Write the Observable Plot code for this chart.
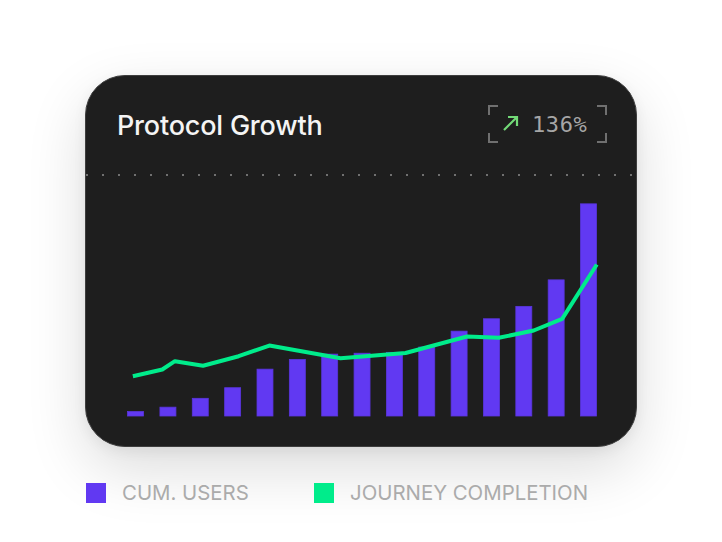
<!DOCTYPE html>
<html>
<head>
<meta charset="utf-8">
<script src="https://cdn.jsdelivr.net/npm/d3@7"></script>
<script src="https://cdn.jsdelivr.net/npm/@observablehq/plot@0.6"></script>
<style>
  html, body { margin: 0; padding: 0; background: #ffffff; width: 722px; height: 542px; overflow: hidden; }
  body { position: relative; font-family: Inter, "Noto Sans", sans-serif; }
  .card { position: absolute; left: 85px; top: 75px; width: 550px; height: 370px; border-radius: 40px;
          background: #1e1e1e; border: 1.5px solid #3e3e3e;
          box-shadow: 0 22px 60px rgba(0,0,0,0.14), 0 4px 14px rgba(0,0,0,0.06); }
  .title { position: absolute; left: 117px; top: 111px; font-size: 27px; font-weight: 500; color: #f4f4f4; letter-spacing: -0.2px; line-height: 30px; }
  .dots { position: absolute; left: 86px; top: 173px; width: 550px; height: 4px;
          background-image: radial-gradient(circle, #707070 0.9px, transparent 1.3px);
          background-size: 16px 4px; background-position: -7px 0; }
  .badge { position: absolute; left: 488px; top: 105px; width: 119px; height: 38px; }
  .corner { position: absolute; width: 8px; height: 8px; border-color: #707070; border-style: solid; border-width: 0; }
  .tl { left: 0; top: 0; border-left-width: 2px; border-top-width: 2px; }
  .tr { right: 0; top: 0; border-right-width: 2px; border-top-width: 2px; }
  .bl { left: 0; bottom: 0; border-left-width: 2px; border-bottom-width: 2px; }
  .br { right: 0; bottom: 0; border-right-width: 2px; border-bottom-width: 2px; }
  .pct { position: absolute; left: 44px; top: 7px; font-family: "DejaVu Sans Mono", "Liberation Mono", monospace; font-size: 22px; color: #a6a6a6; letter-spacing: 0.6px; line-height: 26px; }
  .arrow { position: absolute; left: 14px; top: 10px; }
  #chart { position: absolute; left: 85px; top: 185px; }
  .legend { position: absolute; top: 483px; display: flex; align-items: center; }
  .sw { width: 20px; height: 20px; margin-right: 16px; }
  .lt { font-size: 20.4px; color: #ababab; line-height: 20px; }
</style>
</head>
<body>
<div class="card"></div>
<div class="title">Protocol Growth</div>
<div class="badge">
  <div class="corner tl"></div><div class="corner tr"></div><div class="corner bl"></div><div class="corner br"></div>
  <svg class="arrow" width="18" height="18" viewBox="0 0 18 18"><path d="M2 15 L15 2 M6 2 L15 2 L15 11" fill="none" stroke="#72d977" stroke-width="2.2"/></svg>
  <div class="pct">136%</div>
</div>
<div class="dots"></div>
<div id="chart"></div>
<div class="legend" style="left:86px"><div class="sw" style="background:#6139f2"></div><div class="lt">CUM. USERS</div></div>
<div class="legend" style="left:314px"><div class="sw" style="background:#00ec8b"></div><div class="lt">JOURNEY COMPLETION</div></div>
<script>
// Bars: cumulative users per period (index 0..14)
const periods = [0, 1, 2, 3, 4, 5, 6, 7, 8, 9, 10, 11, 12, 13, 14];
const cumUsers = [5, 10, 20, 32, 53, 64, 70, 71, 72, 78, 96, 110, 124, 154, 240];
// Line: journey completion sampled at its own positions along the period axis
const journeyT = [-0.1, 0.81, 1.2, 2.07, 3.17, 4.12, 6.32, 8.33, 10.23, 11.21, 12.29, 13.17, 14.24];
const journeyV = [45.6, 53.2, 62.6, 57.4, 68.2, 80.3, 66, 71.8, 90.5, 89, 97.3, 110.5, 172];

const barData = periods.map((p, i) => ({p, v: cumUsers[i]}));
const lineData = journeyT.map((t, i) => ({t, v: journeyV[i]}));
const half = 0.247;

const chart = Plot.plot({
  width: 552,
  height: 240,
  marginLeft: 34.4,
  marginRight: 32.3,
  marginTop: 10,
  marginBottom: 9,
  style: {background: "transparent", overflow: "visible"},
  x: {type: "linear", domain: [-0.5, 14.5], axis: null},
  y: {domain: [0, 250], axis: null},
  marks: [
    Plot.rectY(barData, {x1: d => d.p - half, x2: d => d.p + half, y: "v", fill: "#6139f2", stroke: "#5a35de", strokeWidth: 0.8}),
    Plot.line(lineData, {x: "t", y: "v", stroke: "#00ec8b", strokeWidth: 4, strokeLinejoin: "round", strokeLinecap: "butt"})
  ]
});
document.getElementById("chart").appendChild(chart);
</script>
</body>
</html>
